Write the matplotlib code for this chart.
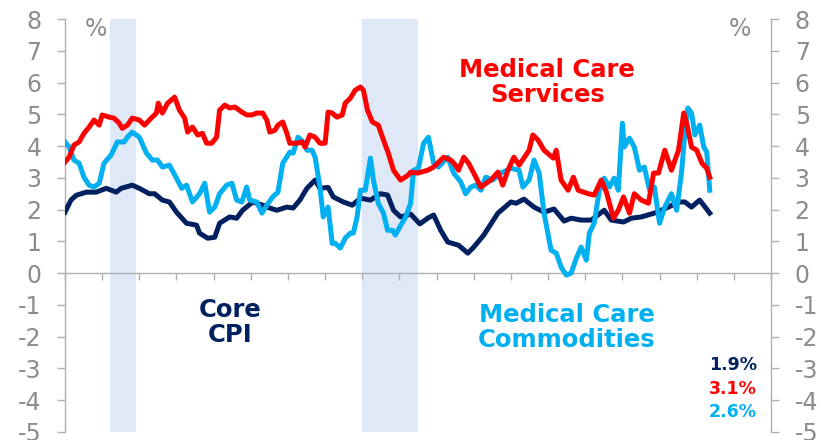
import matplotlib
matplotlib.use("Agg")
import matplotlib.pyplot as plt

# colours
NAVY = "#002060"
RED = "#ff0000"
CYAN = "#00b0f0"
GREY = "#8c8c8c"
SHADE = "#dfe8f6"

# recessions (decimal years)
recessions = [(2001.2, 2001.9), (2008.0, 2009.5)]

# Core CPI, y/y %
core_t = [2000.00, 2000.16, 2000.30, 2000.57, 2000.84, 2001.11, 2001.38, 2001.51, 2001.81, 2002.00,
          2002.27, 2002.41, 2002.62, 2002.81, 2003.00, 2003.27, 2003.54, 2003.62, 2003.84, 2004.03,
          2004.16, 2004.43, 2004.62, 2004.78, 2005.05, 2005.32, 2005.51, 2005.70, 2005.97, 2006.14,
          2006.32, 2006.51, 2006.73, 2006.86, 2007.08, 2007.22, 2007.49, 2007.73, 2007.95, 2008.22,
          2008.49, 2008.68, 2008.84, 2009.03, 2009.30, 2009.55, 2009.76, 2009.92, 2010.11, 2010.30,
          2010.59, 2010.84, 2011.00, 2011.27, 2011.65, 2012.00, 2012.14, 2012.35, 2012.62, 2012.89,
          2013.16, 2013.43, 2013.62, 2013.89, 2014.16, 2014.51, 2014.70, 2015.03, 2015.24, 2015.51,
          2015.86, 2016.24, 2016.51, 2016.68, 2016.86, 2017.08, 2017.35]
core_v = [1.92, 2.30, 2.45, 2.55, 2.55, 2.67, 2.55, 2.67, 2.77, 2.67,
          2.50, 2.50, 2.30, 2.24, 1.92, 1.57, 1.51, 1.26, 1.10, 1.13,
          1.57, 1.77, 1.73, 1.98, 2.24, 2.14, 2.05, 1.98, 2.08, 2.05,
          2.30, 2.67, 2.93, 2.67, 2.70, 2.40, 2.24, 2.14, 2.36, 2.30,
          2.50, 2.46, 1.98, 1.77, 1.86, 1.55, 1.73, 1.83, 1.35, 0.98,
          0.88, 0.63, 0.82, 1.20, 1.89, 2.24, 2.20, 2.33, 2.08, 1.92,
          2.02, 1.64, 1.73, 1.67, 1.67, 1.98, 1.67, 1.61, 1.73, 1.77,
          1.89, 2.08, 2.24, 2.24, 2.08, 2.30, 1.89]

# Medical care services, y/y %
serv_t = [2000.00, 2000.11, 2000.24, 2000.38, 2000.51, 2000.65, 2000.78, 2000.92, 2001.00, 2001.19,
          2001.32, 2001.46, 2001.54, 2001.68, 2001.81, 2002.00, 2002.14, 2002.32, 2002.46, 2002.51,
          2002.62, 2002.76, 2002.95, 2003.08, 2003.22, 2003.30, 2003.43, 2003.57, 2003.70, 2003.81,
          2003.95, 2004.08, 2004.16, 2004.30, 2004.43, 2004.57, 2004.76, 2004.89, 2005.03, 2005.16,
          2005.32, 2005.43, 2005.51, 2005.65, 2005.73, 2005.86, 2005.97, 2006.05, 2006.24, 2006.38,
          2006.46, 2006.59, 2006.73, 2006.86, 2007.00, 2007.08, 2007.19, 2007.32, 2007.46, 2007.54,
          2007.68, 2007.81, 2007.95, 2008.03, 2008.14, 2008.27, 2008.43, 2008.57, 2008.70, 2008.84,
          2009.03, 2009.24, 2009.30, 2009.49, 2009.76, 2009.92, 2010.19, 2010.38, 2010.51, 2010.59,
          2010.73, 2010.86, 2011.00, 2011.19, 2011.46, 2011.65, 2011.78, 2011.92, 2012.08, 2012.22,
          2012.49, 2012.59, 2012.73, 2012.89, 2013.14, 2013.22, 2013.35, 2013.54, 2013.68, 2013.81,
          2014.08, 2014.24, 2014.43, 2014.57, 2014.76, 2014.89, 2015.03, 2015.19, 2015.32, 2015.51,
          2015.70, 2015.84, 2015.97, 2016.14, 2016.32, 2016.51, 2016.65, 2016.73, 2016.86, 2017.00,
          2017.14, 2017.27, 2017.35]
serv_v = [3.50, 3.65, 4.03, 4.13, 4.40, 4.60, 4.82, 4.66, 4.98, 4.91,
          4.88, 4.72, 4.56, 4.66, 4.88, 4.82, 4.66, 4.88, 5.04, 5.35,
          5.04, 5.35, 5.54, 5.13, 4.88, 4.44, 4.60, 4.35, 4.40, 4.09,
          4.09, 4.28, 5.13, 5.29, 5.20, 5.23, 5.07, 4.98, 4.98, 5.04,
          5.04, 4.82, 4.44, 4.50, 4.66, 4.76, 4.40, 4.09, 4.09, 4.13,
          3.97, 4.35, 4.28, 4.09, 4.09, 5.07, 5.04, 4.91, 4.98, 5.35,
          5.51, 5.76, 5.86, 5.76, 5.13, 4.76, 4.66, 4.19, 3.78, 3.24,
          2.93, 3.09, 3.18, 3.15, 3.24, 3.34, 3.65, 3.56, 3.40, 3.24,
          3.65, 3.46, 3.15, 2.71, 2.93, 3.18, 2.77, 3.24, 3.65, 3.40,
          3.87, 4.35, 4.19, 3.87, 3.62, 3.87, 2.93, 2.61, 3.02, 2.61,
          2.50, 2.46, 2.93, 2.55, 1.73, 1.98, 2.40, 1.89, 2.50, 2.30,
          2.20, 3.15, 3.15, 3.87, 3.24, 3.87, 5.04, 4.72, 3.97, 3.87,
          3.46, 3.30, 3.02]

# Medical care commodities, y/y %
comm_t = [2000.00, 2000.11, 2000.24, 2000.38, 2000.51, 2000.65, 2000.78, 2000.92, 2001.05, 2001.24,
          2001.41, 2001.59, 2001.68, 2001.81, 2002.00, 2002.19, 2002.35, 2002.49, 2002.62, 2002.81,
          2003.00, 2003.14, 2003.27, 2003.43, 2003.62, 2003.76, 2003.89, 2004.03, 2004.16, 2004.35,
          2004.49, 2004.62, 2004.76, 2004.89, 2004.97, 2005.16, 2005.30, 2005.43, 2005.59, 2005.73,
          2005.86, 2006.05, 2006.14, 2006.27, 2006.41, 2006.51, 2006.65, 2006.73, 2006.86, 2006.95,
          2007.08, 2007.19, 2007.27, 2007.41, 2007.54, 2007.68, 2007.76, 2007.86, 2007.95, 2008.08,
          2008.22, 2008.30, 2008.43, 2008.57, 2008.68, 2008.81, 2008.89, 2009.03, 2009.16, 2009.30,
          2009.38, 2009.51, 2009.65, 2009.78, 2009.92, 2010.05, 2010.30, 2010.46, 2010.65, 2010.78,
          2010.92, 2011.05, 2011.19, 2011.32, 2011.51, 2011.73, 2012.00, 2012.22, 2012.32, 2012.49,
          2012.62, 2012.76, 2012.89, 2013.08, 2013.22, 2013.35, 2013.49, 2013.62, 2013.76, 2013.89,
          2014.03, 2014.11, 2014.24, 2014.38, 2014.51, 2014.65, 2014.78, 2014.89, 2015.00, 2015.05,
          2015.19, 2015.32, 2015.46, 2015.59, 2015.73, 2015.86, 2016.00, 2016.14, 2016.32, 2016.46,
          2016.59, 2016.68, 2016.76, 2016.86, 2016.95, 2017.08, 2017.19, 2017.27, 2017.35]
comm_v = [4.13, 3.97, 3.56, 3.46, 3.02, 2.77, 2.71, 2.83, 3.46, 3.72,
          4.13, 4.13, 4.28, 4.44, 4.28, 3.78, 3.56, 3.56, 3.34, 3.40,
          2.99, 2.67, 2.77, 2.24, 2.50, 2.83, 1.92, 2.08, 2.50, 2.77,
          2.83, 2.30, 2.24, 2.71, 2.30, 2.24, 1.89, 2.14, 2.40, 2.55,
          3.46, 3.81, 3.78, 4.28, 4.13, 3.87, 3.87, 3.65, 2.71, 1.77,
          2.08, 0.94, 0.94, 0.79, 1.10, 1.26, 1.26, 1.77, 2.61, 2.61,
          3.62, 2.93, 2.20, 1.89, 1.35, 1.35, 1.20, 1.50, 1.75, 2.20,
          3.24, 3.30, 4.09, 4.28, 3.46, 3.34, 3.65, 3.15, 2.87, 2.50,
          2.71, 2.77, 2.61, 3.02, 2.93, 3.15, 3.30, 3.24, 2.71, 2.93,
          3.56, 3.15, 1.89, 0.72, 0.63, 0.19, -0.06, 0.00, 0.47, 0.82,
          0.41, 1.26, 1.57, 2.61, 2.99, 2.71, 2.99, 2.61, 4.72, 3.97,
          4.25, 3.97, 3.24, 3.34, 2.61, 2.71, 1.57, 2.08, 2.50, 1.98,
          3.15, 4.40, 5.20, 5.04, 4.35, 4.66, 3.97, 3.81, 2.61]

latest = ["1.9%", "3.1%", "2.6%"]
year_ticks = list(range(2000, 2020))
y_ticks = list(range(-5, 9))

fig = plt.figure(figsize=(8.25, 4.4), dpi=100)
ax = fig.add_axes([0.0788, 0.0182, 0.8558, 0.9386])

for a, b in recessions:
    ax.axvspan(a, b, color=SHADE, lw=0, zorder=0)

ax.plot(core_t, core_v, color=NAVY, lw=3.6, zorder=3)
ax.plot(comm_t, comm_v, color=CYAN, lw=3.6, zorder=4)
ax.plot(serv_t, serv_v, color=RED, lw=3.6, zorder=5)

ax.set_xlim(2000, 2019)
ax.set_ylim(-5, 8)
ax.set_xticks(year_ticks)
ax.set_xticklabels([])
ax.set_yticks(y_ticks)

for s in ["left", "right", "bottom"]:
    ax.spines[s].set_color("#b0b0b0")
    ax.spines[s].set_linewidth(1.0)
ax.spines["top"].set_visible(False)
ax.spines["bottom"].set_position(("data", 0))

ax.tick_params(axis="x", direction="out", length=5, width=1, color="#b0b0b0")
ax.tick_params(axis="y", which="both", left=True, right=True, labelleft=True, labelright=True,
               direction="out", length=6, width=1, color="#b0b0b0",
               labelsize=17, labelcolor=GREY)
ax.tick_params(axis="y", pad=11)
for lab in ax.get_yticklabels():
    lab.set_fontfamily("DejaVu Sans")
ax.yaxis.set_tick_params(which="major", pad=11)
for t in ax.yaxis.get_major_ticks():
    t.label2.set_x(1.0)
    t.set_pad(11)

ax.set_yticklabels([str(v).replace("-", "-") for v in y_ticks])

ax.text(0.044, 0.976, "%", transform=ax.transAxes, ha="center", va="center",
        fontsize=17, color=GREY)
ax.text(0.956, 0.976, "%", transform=ax.transAxes, ha="center", va="center",
        fontsize=17, color=GREY)

ax.text(0.683, 0.847, "Medical Care\nServices", transform=ax.transAxes, ha="center",
        va="center", fontsize=17.5, fontweight="bold", color=RED, linespacing=1.05)
ax.text(0.234, 0.264, "Core\nCPI", transform=ax.transAxes, ha="center",
        va="center", fontsize=17.5, fontweight="bold", color=NAVY, linespacing=1.05)
ax.text(0.711, 0.252, "Medical Care\nCommodities", transform=ax.transAxes, ha="center",
        va="center", fontsize=17.5, fontweight="bold", color=CYAN, linespacing=1.05)

for txt, col, yy in zip(latest, [NAVY, RED, CYAN], [0.162, 0.104, 0.048]):
    ax.text(0.980, yy, txt, transform=ax.transAxes, ha="right", va="center",
            fontsize=12.5, fontweight="bold", color=col)

fig.savefig("out.png", dpi=100)
